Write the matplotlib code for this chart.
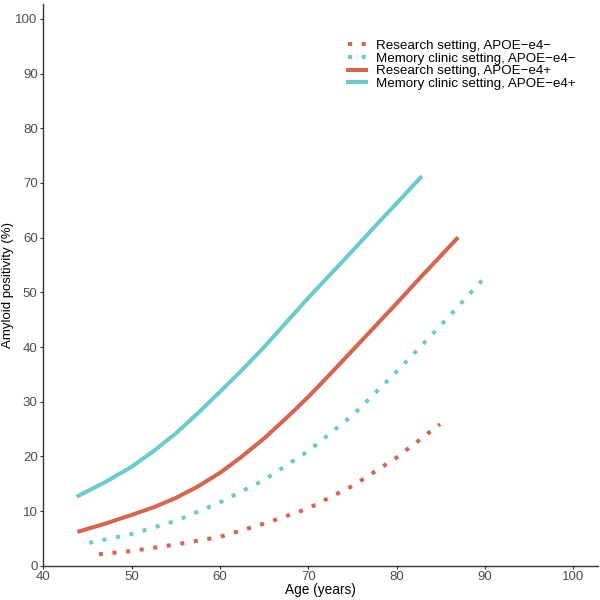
import matplotlib
matplotlib.use("Agg")
import matplotlib.pyplot as plt

# (age in years, amyloid positivity in %)
age_rs_neg = [46.3, 50, 55, 60, 65, 70, 75, 80, 84.9]
pos_rs_neg = [2.1, 2.7, 3.9, 5.3, 7.7, 10.5, 14.6, 19.8, 25.9]

age_mc_neg = [45.2, 50, 55, 60, 65, 70, 75, 80, 85, 89.9]
pos_mc_neg = [4.2, 5.8, 8.2, 11.6, 15.7, 21.0, 27.5, 35.5, 44.0, 52.6]

age_rs_pos = [44.1, 47, 50, 52.5, 55, 57.5, 60, 62.5, 65, 67.5, 70,
              72.5, 75, 77.5, 80, 82.5, 85, 86.8]
pos_rs_pos = [6.3, 7.7, 9.3, 10.7, 12.4, 14.5, 17.0, 20.0, 23.3, 27.0, 30.9,
              35.1, 39.4, 43.7, 48.0, 52.4, 56.7, 59.8]

age_mc_pos = [44.0, 47, 50, 52.5, 55, 57.5, 60, 62.5, 65, 67.5, 70,
              72.5, 75, 77.5, 80, 82.7]
pos_mc_pos = [12.8, 15.3, 18.1, 21.0, 24.2, 27.9, 31.8, 35.8, 40.0, 44.5, 49.0,
              53.3, 57.6, 62.0, 66.3, 71.0]

labels = ["Research setting, APOE\u2212e4\u2212",
          "Memory clinic setting, APOE\u2212e4\u2212",
          "Research setting, APOE\u2212e4+",
          "Memory clinic setting, APOE\u2212e4+"]

RED, TEAL = "#D9634C", "#68CCCA"

plt.rcParams["font.family"] = ["Liberation Sans", "DejaVu Sans"]

fig = plt.figure(figsize=(6, 6), dpi=100)
ax = fig.add_axes([0.072, 0.057, 0.925, 0.937])

dot = (0, (1, 2.4))
lw = 2.9
ax.plot(age_rs_neg, pos_rs_neg, color=RED, lw=lw, ls=dot, dash_capstyle="butt", label=labels[0])
ax.plot(age_mc_neg, pos_mc_neg, color=TEAL, lw=lw, ls=dot, dash_capstyle="butt", label=labels[1])
ax.plot(age_rs_pos, pos_rs_pos, color=RED, lw=lw, label=labels[2])
ax.plot(age_mc_pos, pos_mc_pos, color=TEAL, lw=lw, label=labels[3])

ax.set_xlim(40, 102.8)
ax.set_ylim(0, 102.8)
ax.set_xticks(range(40, 101, 10))
ax.set_yticks(range(0, 101, 10))
for s in ("top", "right"):
    ax.spines[s].set_visible(False)
for s in ("left", "bottom"):
    ax.spines[s].set_color("#333333")
    ax.spines[s].set_linewidth(1.0)
ax.tick_params(length=2.5, color="#333333", labelcolor="#4D4D4D", labelsize=9.5, pad=1.5)

ax.set_xlabel("Age (years)", fontsize=9.8, labelpad=0)
ax.set_ylabel("Amyloid positivity (%)", fontsize=9.5, labelpad=1)

ax.legend(loc="upper left", bbox_to_anchor=(0.538, 0.948), frameon=False,
          fontsize=9.6, handlelength=1.3, handletextpad=0.75, labelspacing=0.03,
          borderpad=0)

fig.savefig("out.png", dpi=100)
